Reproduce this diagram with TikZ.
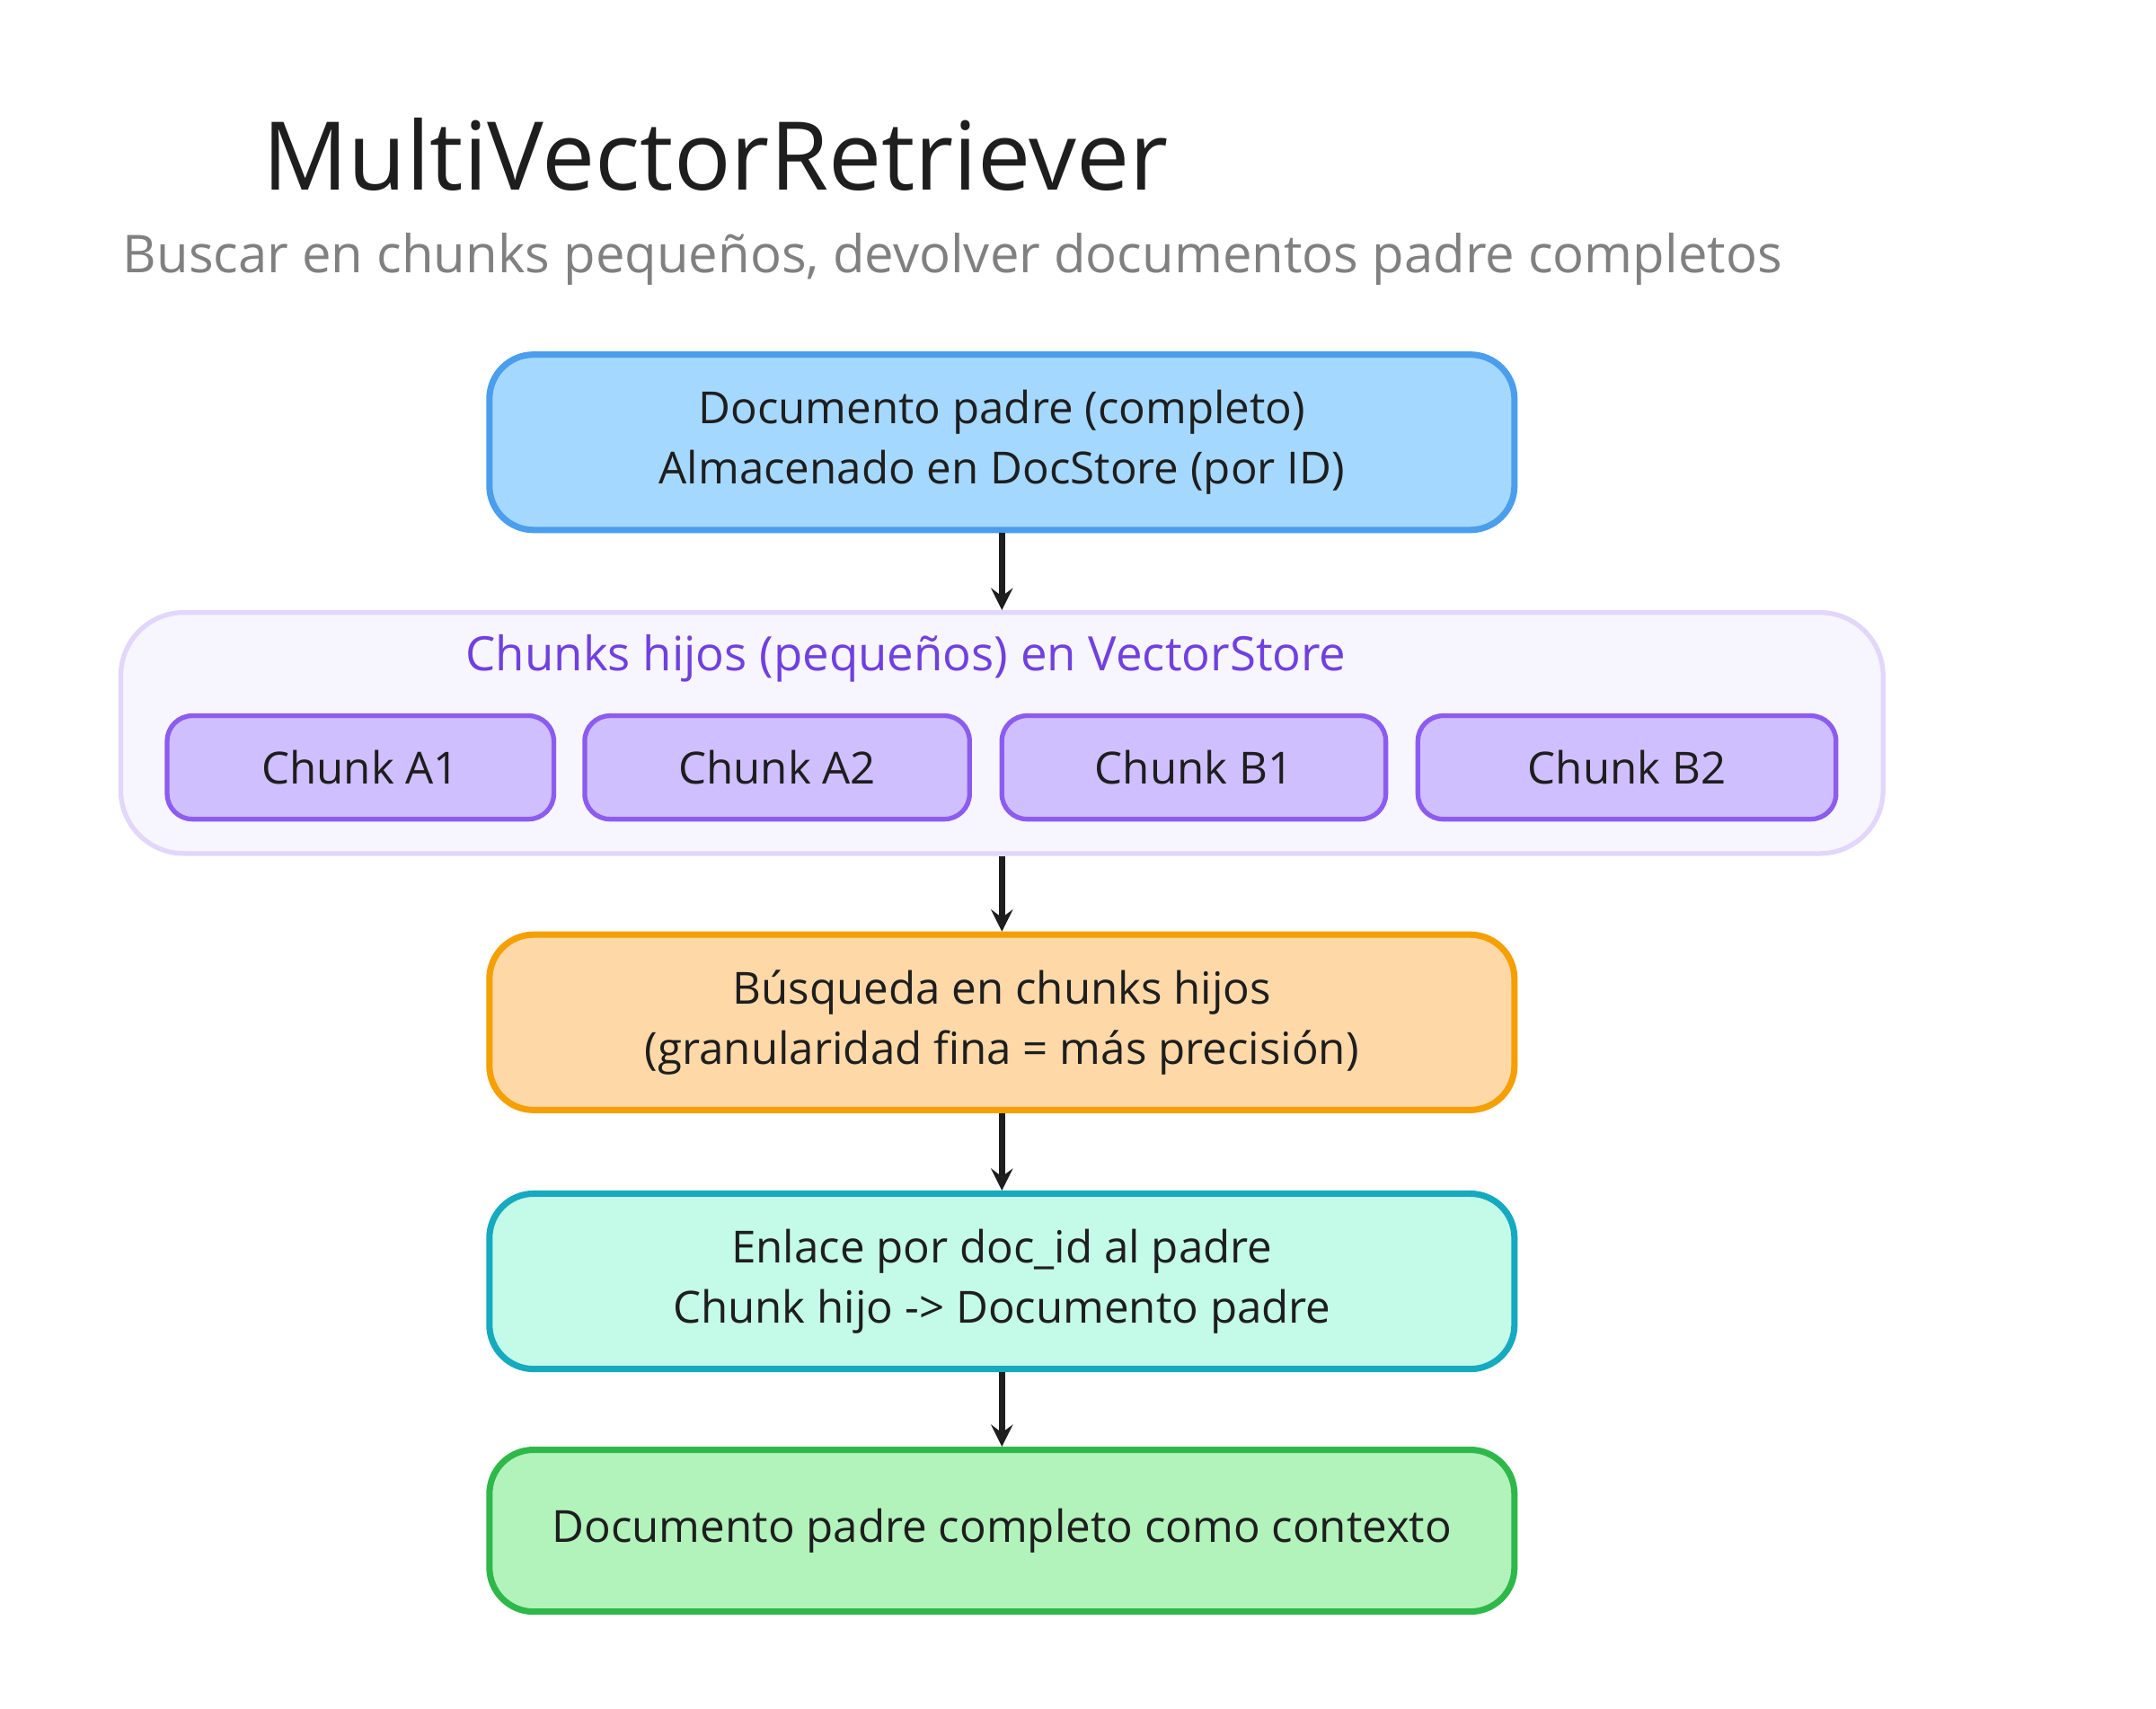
\documentclass[tikz,border=0pt]{standalone}
\usepackage{fontspec}
\setmainfont{Open Sans}
\usetikzlibrary{positioning}
\definecolor{blueF}{HTML}{A5D8FF}\definecolor{blueD}{HTML}{4A9EED}
\definecolor{purF}{HTML}{D0BFFF}\definecolor{purD}{HTML}{8C5CF0}
\definecolor{boxF}{HTML}{F7F5FD}\definecolor{boxD}{HTML}{E2D6FB}
\definecolor{purT}{HTML}{7040E0}
\definecolor{orF}{HTML}{FFD8A8}\definecolor{orD}{HTML}{F59F00}
\definecolor{cyF}{HTML}{C3FAE8}\definecolor{cyD}{HTML}{15AABF}
\definecolor{grF}{HTML}{B2F2BB}\definecolor{grD}{HTML}{2FB84A}
\definecolor{ink}{HTML}{1E1E1E}
\tikzset{
  stage/.style={draw, line width=2pt, rounded corners=14pt, minimum width=11.4cm, minimum height=1.95cm, align=center, font=\fontsize{14}{19}\selectfont, text=ink},
  chunk/.style={draw=purD, fill=purF, line width=1.5pt, rounded corners=8pt, minimum height=1.15cm, font=\fontsize{14}{17}\selectfont, text=ink},
  flow/.style={->, >=stealth, line width=2pt, draw=ink}
}
\begin{document}
\begin{tikzpicture}[x=0.01525cm,y=-0.01532cm]
    \useasboundingbox (0,0) rectangle (1573,1240);
    \node[font=\fontsize{30}{36}\selectfont, text=ink] (title) at (522,112) {MultiVectorRetriever};
    \node[font=\fontsize{16.5}{20}\selectfont, text=gray] (sub) at (695,188) {Buscar en chunks pequeños, devolver documentos padre completos};
    \node[stage, fill=blueF, draw=blueD] (doc) at (731,321) {Documento padre (completo)\\Almacenado en DocStore (por ID)};
    \node[draw=boxD, fill=boxF, line width=1.5pt, rounded corners=20pt, minimum width=19.6cm, minimum height=2.68cm] (store) at (731,532) {};
    \node[text=purT, font=\fontsize{15}{18}\selectfont] (storelbl) at (661,478) {Chunks hijos (pequeños) en VectorStore};
    \node[chunk, minimum width=4.3cm] (ca1) at (263,557) {Chunk A1};
    \node[chunk, minimum width=4.28cm] (ca2) at (567,557) {Chunk A2};
    \node[chunk, minimum width=4.27cm] (cb1) at (871,557) {Chunk B1};
    \node[chunk, minimum width=4.65cm] (cb2) at (1187,557) {Chunk B2};
    \node[stage, fill=orF, draw=orD] (search) at (731,742) {Búsqueda en chunks hijos\\(granularidad fina = más precisión)};
    \node[stage, fill=cyF, draw=cyD] (link) at (731,930) {Enlace por doc\_id al padre\\Chunk hijo -> Documento padre};
    \node[stage, fill=grF, draw=grD, minimum height=1.8cm] (ctx) at (731,1111) {Documento padre completo como contexto};

    \draw[flow] (doc) -- (store);
    \draw[flow] (store) -- (search);
    \draw[flow] (search) -- (link);
    \draw[flow] (link) -- (ctx);
\end{tikzpicture}
\end{document}
